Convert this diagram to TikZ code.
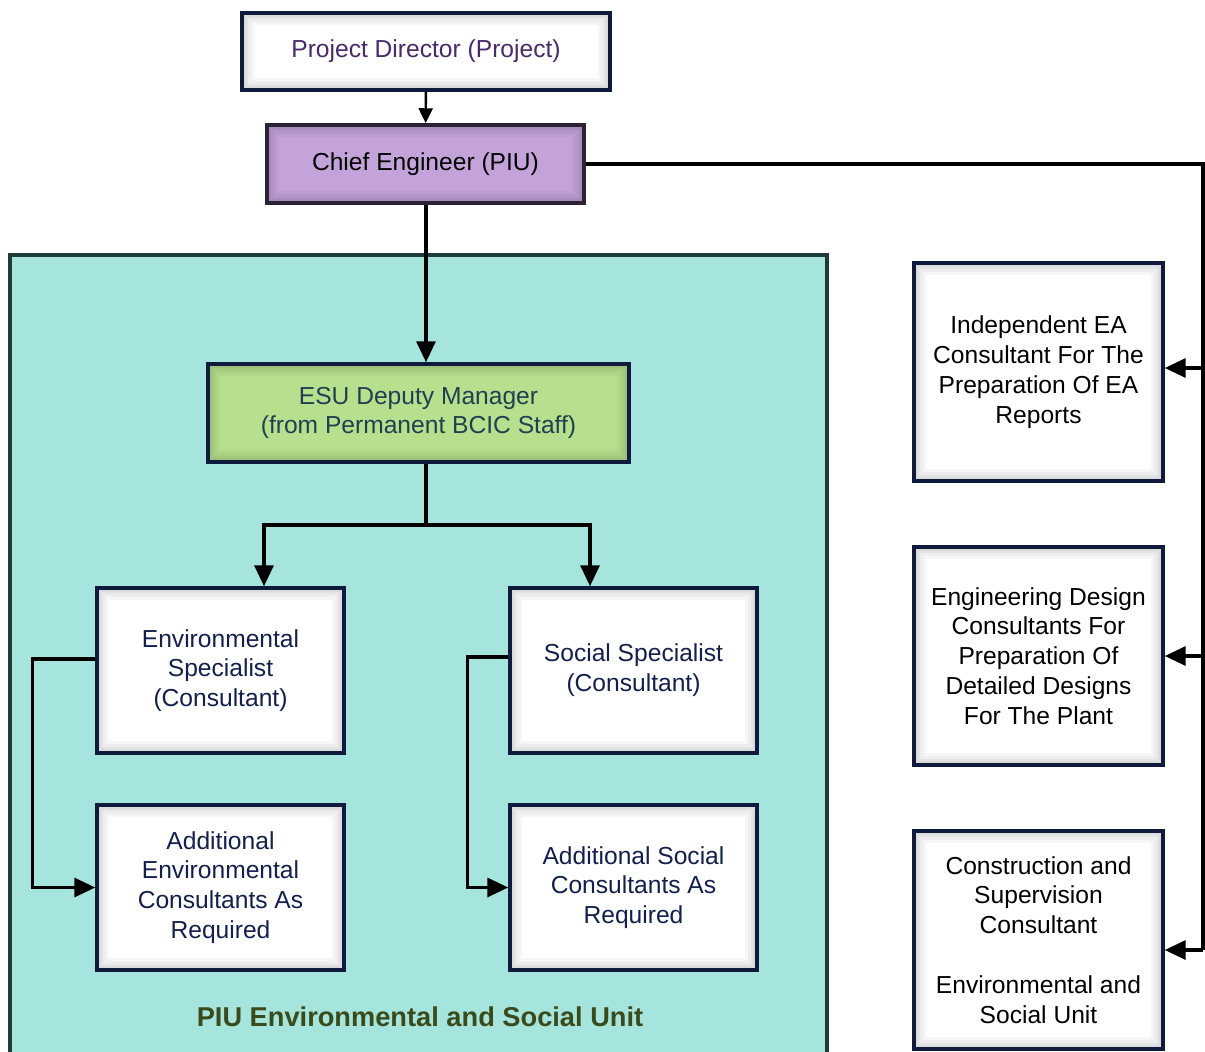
\documentclass[tikz,border=0pt]{standalone}
\usepackage{fontspec}
\setmainfont{Liberation Sans}
\usetikzlibrary{arrows.meta}
\definecolor{unitfill}{HTML}{A6E5DE}
\definecolor{unitline}{HTML}{1E3B3C}
\definecolor{navy}{HTML}{0F1B3D}
\definecolor{navytext}{HTML}{13204D}
\definecolor{pdtext}{HTML}{4B2A6B}
\definecolor{cefill}{HTML}{C4A3DB}
\definecolor{celine}{HTML}{2B2233}
\definecolor{esufill}{HTML}{B8DF8E}
\definecolor{esutext}{HTML}{1F4050}
\definecolor{unittext}{HTML}{3A4A1A}
\begin{document}
\begin{tikzpicture}[x=0.02cm,y=-0.02cm,
    glow/.style={path picture={
        \foreach \w in {14,10,7,4.5,2.5}
          \draw[line width=\w pt,black,opacity=0.035] (path picture bounding box.south west) rectangle (path picture bounding box.north east);}},
    box/.style={draw=navy,line width=2pt,fill=white,glow,align=center,inner sep=2pt,
        font=\fontsize{14}{17}\selectfont,text=navytext,minimum width=4.94cm,minimum height=3.3cm},
    sidebox/.style={box,text=black,minimum width=4.98cm,minimum height=4.36cm},
    line/.style={line width=1.9pt},
    conn/.style={line,-{Triangle[length=0.42cm,width=0.38cm]}}]
\useasboundingbox (0,0) rectangle (1205,1052);

% ESU container
\node [draw=unitline,line width=2pt,fill=unitfill,minimum width=16.34cm,minimum height=16.1cm,inner sep=0pt](unit)at(418.5,657.5){};
\node [font=\fontsize{15.5}{18}\selectfont\bfseries,text=unittext](unitname)at(420,1017){PIU Environmental and Social Unit};

\node [box,text=pdtext,minimum width=7.36cm,minimum height=1.54cm](pd)at(426,51.5){Project Director (Project)};
\node [box,fill=cefill,draw=celine,text=black,minimum width=6.34cm,minimum height=1.56cm](ce)at(425.5,164){Chief Engineer (PIU)};
\node [box,fill=esufill,text=esutext,minimum width=8.42cm,minimum height=1.96cm](esu)at(418.5,413){ESU Deputy Manager\\(from Permanent BCIC Staff)};

\node [box](envs)at(220.5,670.5){Environmental\\Specialist\\(Consultant)};
\node [box](socs)at(633.5,670.5){Social Specialist\\(Consultant)};
\node [box](adde)at(220.5,887.5){Additional\\Environmental\\Consultants As\\Required};
\node [box](adds)at(633.5,887.5){Additional Social\\Consultants As\\Required};

\node [sidebox](ea)at(1038.5,372){Independent EA\\Consultant For The\\Preparation Of EA\\Reports};
\node [sidebox](eng)at(1038.5,656){Engineering Design\\Consultants For\\Preparation Of\\Detailed Designs\\For The Plant};
\node [sidebox](csc)at(1038.5,940){Construction and\\Supervision\\Consultant\\[17pt]Environmental and\\Social Unit};

\coordinate (fork)at(426,525);
\coordinate (rail)at(1203,950);

\draw [line width=1.4pt,-{Triangle[length=0.3cm,width=0.28cm]}] (pd) -- (ce);
\draw [conn] (ce.south -| fork) -- (esu.north -| fork);
\draw [line] (esu.south -| fork) -- (fork);
\draw [conn] (fork) -| ([xshift=0.87cm]envs.north);
\draw [conn] (fork) -| ([xshift=-0.87cm]socs.north);
\draw [conn] ([yshift=0.23cm]envs.west) -- ++(-63,0) |- (adde.west);
\draw [conn] ([yshift=0.27cm]socs.west) -- ++(-41,0) |- (adds.west);

\draw [line] (ce.east) -| (rail);
\draw [conn] ([yshift=0.08cm]ea.east -| rail) -- ([yshift=0.08cm]ea.east);
\draw [conn] (eng.east -| rail) -- (eng.east);
\draw [conn] ([yshift=-0.2cm]csc.east -| rail) -- ([yshift=-0.2cm]csc.east);
\end{tikzpicture}
\end{document}
